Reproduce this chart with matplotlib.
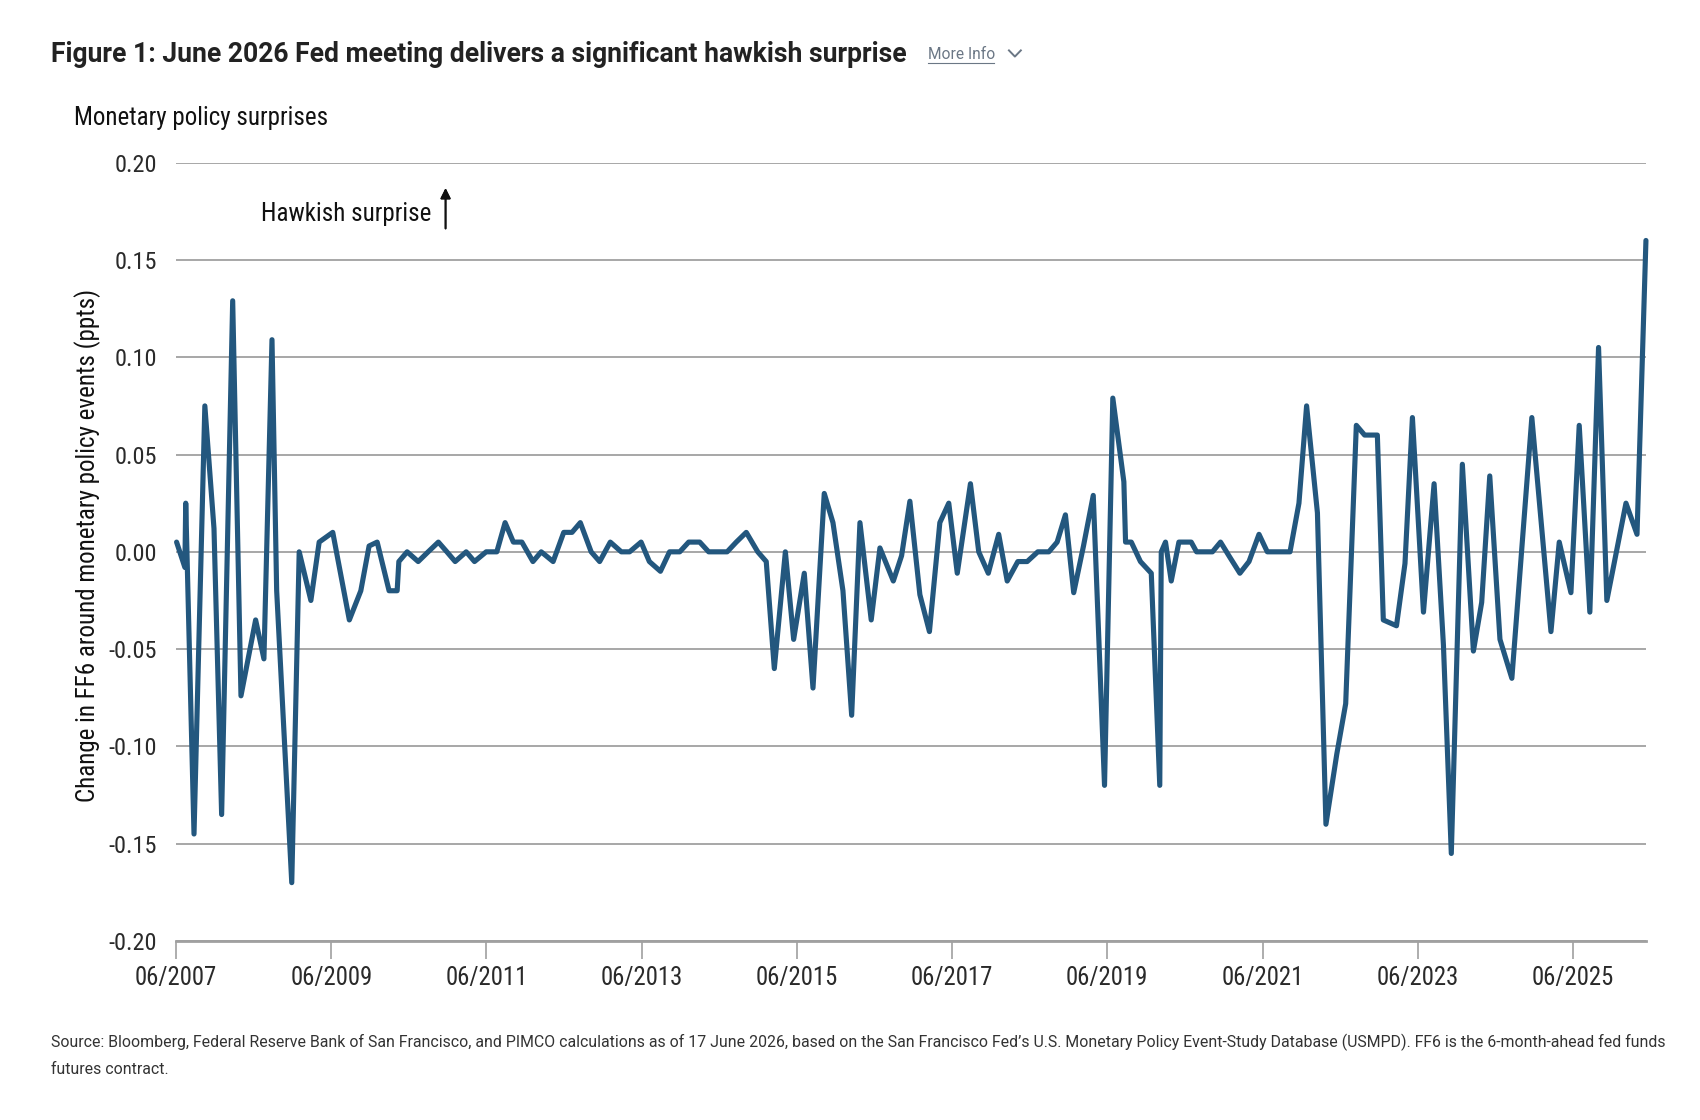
import numpy as np
import matplotlib.pyplot as plt
import pandas as pd
from matplotlib.lines import Line2D

# Monetary policy surprises (change in FF6, ppts)
dates = [
    '2007-06-20', '2007-07-29', '2007-08-02', '2007-09-10', '2007-10-31', '2007-12-13',
    '2008-01-18', '2008-03-10', '2008-04-18', '2008-06-26', '2008-08-04', '2008-09-11',
    '2008-10-03', '2008-12-13',
    '2009-01-17', '2009-03-13', '2009-04-21', '2009-06-24', '2009-09-10', '2009-11-03',
    '2009-12-12',
    '2010-01-19', '2010-03-16', '2010-04-23', '2010-05-01', '2010-06-09', '2010-07-31',
    '2010-09-16', '2010-11-03', '2010-12-13',
    '2011-01-21', '2011-03-14', '2011-04-22', '2011-06-16', '2011-08-05', '2011-09-13',
    '2011-10-22', '2011-12-01',
    '2012-01-22', '2012-03-01', '2012-04-26', '2012-06-15', '2012-07-24', '2012-09-01',
    '2012-10-22', '2012-12-01',
    '2013-01-20', '2013-03-13', '2013-04-21', '2013-06-14', '2013-07-23', '2013-09-13',
    '2013-10-26', '2013-12-13',
    '2014-01-24', '2014-03-17', '2014-04-28', '2014-06-10', '2014-07-24', '2014-09-05',
    '2014-10-22', '2014-12-15',
    '2015-01-24', '2015-03-03', '2015-04-24', '2015-06-02', '2015-07-22', '2015-09-01',
    '2015-10-24', '2015-12-04',
    '2016-01-20', '2016-03-01', '2016-04-09', '2016-06-01', '2016-07-12', '2016-09-13',
    '2016-10-22', '2016-11-30',
    '2017-01-16', '2017-03-02', '2017-04-20', '2017-06-01', '2017-07-11', '2017-09-11',
    '2017-10-20', '2017-12-04',
    '2018-01-22', '2018-03-03', '2018-04-22', '2018-06-05', '2018-07-25', '2018-09-15',
    '2018-10-24', '2018-12-02',
    '2019-01-10', '2019-02-25', '2019-04-12', '2019-06-04', '2019-07-13', '2019-09-03',
    '2019-09-11', '2019-10-08', '2019-11-20',
    '2020-01-10', '2020-02-19', '2020-02-26', '2020-03-17', '2020-04-13', '2020-05-19',
    '2020-07-16', '2020-08-10', '2020-09-17', '2020-10-24', '2020-12-01',
    '2021-01-15', '2021-03-02', '2021-04-14', '2021-05-31', '2021-07-09', '2021-09-01',
    '2021-10-24', '2021-12-05',
    '2022-01-10', '2022-03-02', '2022-04-11', '2022-06-01', '2022-07-13', '2022-09-01',
    '2022-10-10', '2022-12-09',
    '2023-01-06', '2023-03-09', '2023-04-18', '2023-05-23', '2023-07-14', '2023-09-02',
    '2023-10-16', '2023-11-22',
    '2024-01-13', '2024-03-05', '2024-04-13', '2024-05-21', '2024-07-08', '2024-09-02',
    '2024-10-19', '2024-12-05',
    '2025-01-19', '2025-03-05', '2025-04-13', '2025-06-07', '2025-07-16', '2025-09-04',
    '2025-10-15', '2025-11-23',
    '2026-01-07', '2026-02-21', '2026-04-14', '2026-05-26',
]
surprise = [
    0.005, -0.008, 0.025, -0.145, 0.075, 0.012,
    -0.135, 0.129, -0.074, -0.035, -0.055, 0.109,
    -0.020, -0.170,
    0.000, -0.025, 0.005, 0.010, -0.035, -0.020,
    0.003,
    0.005, -0.020, -0.020, -0.005, 0.000, -0.005,
    0.000, 0.005, 0.000,
    -0.005, 0.000, -0.005, 0.000, 0.000, 0.015,
    0.005, 0.005,
    -0.005, 0.000, -0.005, 0.010, 0.010, 0.015,
    0.000, -0.005,
    0.005, 0.000, 0.000, 0.005, -0.005, -0.010,
    0.000, 0.000,
    0.005, 0.005, 0.000, 0.000, 0.000, 0.005,
    0.010, 0.000,
    -0.005, -0.060, 0.000, -0.045, -0.011, -0.070,
    0.030, 0.015,
    -0.020, -0.084, 0.015, -0.035, 0.002, -0.015,
    -0.002, 0.026,
    -0.022, -0.041, 0.015, 0.025, -0.011, 0.035,
    0.000, -0.011,
    0.009, -0.015, -0.005, -0.005, 0.000, 0.000,
    0.005, 0.019,
    -0.021, 0.003, 0.029, -0.120, 0.079, 0.036,
    0.005, 0.005, -0.005,
    -0.011, -0.120, 0.000, 0.005, -0.015, 0.005,
    0.005, 0.000, 0.000, 0.000, 0.005,
    -0.003, -0.011, -0.005, 0.009, 0.000, 0.000,
    0.000, 0.025,
    0.075, 0.020, -0.140, -0.104, -0.078, 0.065,
    0.060, 0.060,
    -0.035, -0.038, -0.006, 0.069, -0.031, 0.035,
    -0.048, -0.155,
    0.045, -0.051, -0.026, 0.039, -0.045, -0.065,
    0.002, 0.069,
    0.014, -0.041, 0.005, -0.021, 0.065, -0.031,
    0.105, -0.025,
    0.000, 0.025, 0.009, 0.160,
]

tick_dates = ['2007-06-17', '2009-06-17', '2011-06-17', '2013-06-17', '2015-06-17',
              '2017-06-17', '2019-06-17', '2021-06-17', '2023-06-17', '2025-06-17']
tick_labels = ['06/2007', '06/2009', '06/2011', '06/2013', '06/2015',
               '06/2017', '06/2019', '06/2021', '06/2023', '06/2025']
y_ticks = [-0.20, -0.15, -0.10, -0.05, 0.00, 0.05, 0.10, 0.15, 0.20]

narrow = ['Roboto Condensed', 'IBM Plex Sans Condensed', 'DejaVu Sans']
wide = ['Roboto', 'DejaVu Sans']
plt.rcParams['font.family'] = narrow

fig = plt.figure(figsize=(17, 11.2), dpi=100)
ax = fig.add_axes([0.1035, 0.1598, 0.8647, 0.695])

x = pd.to_datetime(dates)
ax.plot(x, surprise, color='#23577e', lw=3.7, solid_joinstyle='round',
        solid_capstyle='round', zorder=3, clip_on=False)

ax.set_ylim(-0.2, 0.2)
ax.set_yticks(y_ticks)
ax.set_yticklabels([f'{v:.2f}' for v in y_ticks])
ax.grid(axis='y', color='#a0a0a0', lw=1.3)
ax.set_axisbelow(True)

ax.set_xlim(pd.Timestamp(tick_dates[0]), x[-1])
ax.set_xticks(pd.to_datetime(tick_dates))
ax.set_xticklabels(tick_labels)

for s in ['top', 'right', 'left']:
    ax.spines[s].set_visible(False)
ax.spines['bottom'].set_color('#a0a0a0')
ax.spines['bottom'].set_linewidth(2)

ax.tick_params(axis='y', length=0, pad=13.5, labelsize=17.5, labelcolor='#2a2a2a')
ax.tick_params(axis='x', length=13, width=1.2, color='#a0a0a0', pad=5,
               labelsize=17.8, labelcolor='#2a2a2a')

# header
fig.text(0.030, 0.951, 'Figure 1: June 2026 Fed meeting delivers a significant hawkish surprise',
         family=wide, fontweight='bold', fontsize=19.1, color='#222222', va='center')
fig.text(0.546, 0.951, 'More Info', family=wide, fontsize=11.2, color='#6b7785', va='center')
fig.lines.append(Line2D([0.546, 0.585], [0.9435, 0.9435], transform=fig.transFigure,
                        color='#6b7785', lw=0.8))
fig.lines.append(Line2D([0.5935, 0.5970, 0.6005], [0.9550, 0.9495, 0.9550],
                        transform=fig.transFigure, color='#6b7785', lw=1.4))

fig.text(0.0435, 0.8945, 'Monetary policy surprises', fontsize=18, color='#111111', va='center')
fig.text(0.0515, 0.513, 'Change in FF6 around monetary policy events (ppts)', fontsize=18,
         color='#111111', rotation=90, ha='center', va='center')

fig.text(0.1535, 0.8085, 'Hawkish surprise', fontsize=18, color='#111111', va='center')
fig.add_artist(plt.annotate('', xy=(0.2621, 0.8320), xytext=(0.2621, 0.7960),
                            xycoords='figure fraction', textcoords='figure fraction',
                            arrowprops=dict(arrowstyle='-|>', color='#111111', lw=1.3,
                                            mutation_scale=15, shrinkA=0, shrinkB=0)))

# footer
fig.text(0.030, 0.0695,
         'Source: Bloomberg, Federal Reserve Bank of San Francisco, and PIMCO calculations as of 17 June 2026, '
         'based on the San Francisco Fed\u2019s U.S. Monetary Policy Event-Study Database (USMPD). '
         'FF6 is the 6-month-ahead fed funds',
         family=wide, fontsize=11.44, color='#333333', va='center')
fig.text(0.030, 0.0452, 'futures contract.', family=wide, fontsize=11.44, color='#333333',
         va='center')

fig.savefig('out.png', dpi=100)
